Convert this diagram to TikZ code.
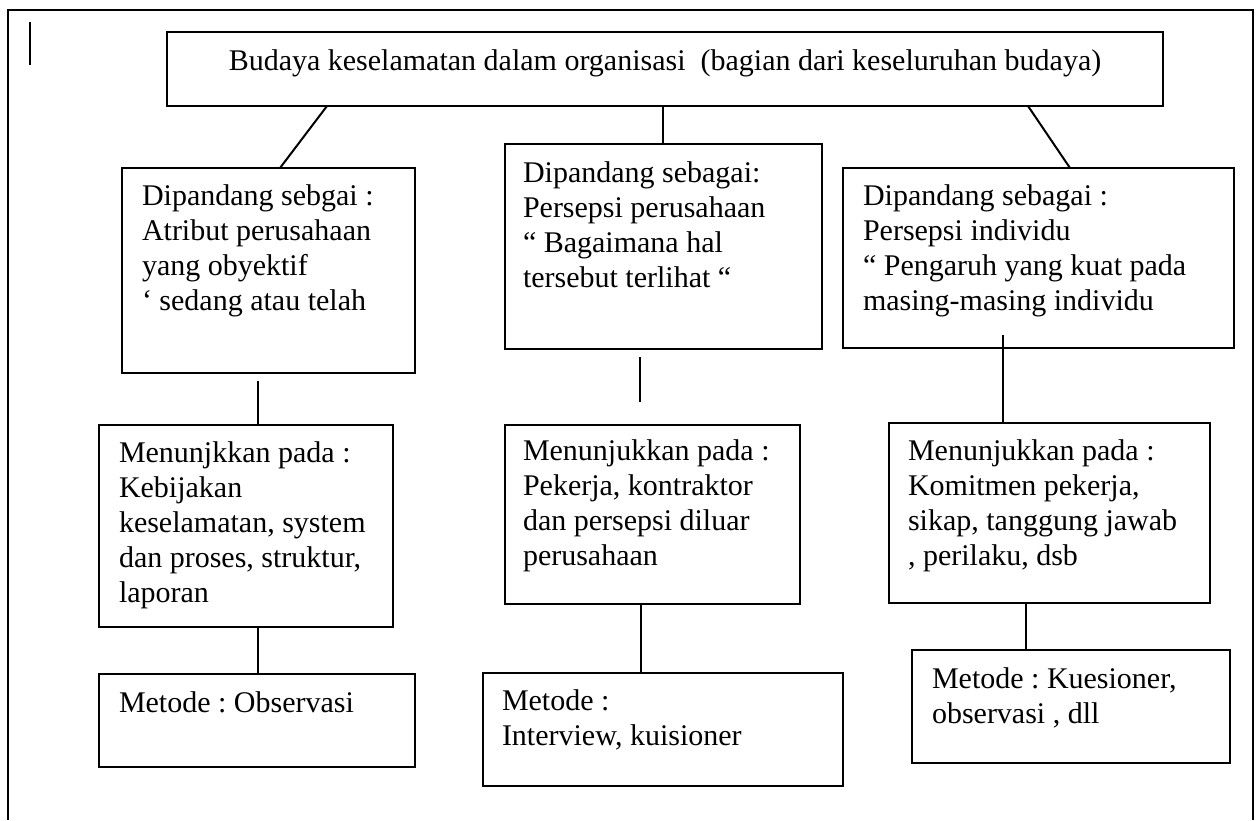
\documentclass[tikz,border=0pt]{standalone}
\usepackage{fontspec}
\setmainfont{Liberation Serif}
\usetikzlibrary{calc}

\begin{document}
\begin{tikzpicture}[x=0.5pt, y=-0.5pt,
  box/.style={draw, line width=1.2pt, rectangle, inner sep=0pt, outer sep=0pt, anchor=north west},
  txt/.style={inner sep=0pt, outer sep=0pt, font=\fontsize{15}{17.5}\selectfont\frenchspacing},
  link/.style={line width=1pt},
  frameline/.style={line width=1.1pt}]

\useasboundingbox (0,0) rectangle (1258,820);

% outer frame (its lower edge falls outside the page)
\draw[frameline] (8,820) -- (8,10) -- (1253,10) -- (1253,820);
\draw[line width=1.3pt] (30,22) -- (30,65);

% top box
\node[box, minimum width=498pt, minimum height=37pt] (T) at (167,32) {};
\node[txt, anchor=base] (Tt) at ($(T.north west)+(498,38)$)
  {Budaya keselamatan dalam organisasi\ \ (bagian dari keseluruhan budaya)};

% first row: how the culture is viewed
\node[box, minimum width=146.5pt, minimum height=102.5pt] (L1) at (122,168) {};
\node[txt, anchor=base west] (L1t) at ($(L1.north west)+(20,37)$)
  {\begin{tabular}[t]{@{}l@{}}Dipandang sebgai :\\ Atribut perusahaan\\ yang obyektif\\ ‘ sedang atau telah\end{tabular}};

\node[box, minimum width=158.5pt, minimum height=102.5pt] (M1) at (505,144) {};
\node[txt, anchor=base west] (M1t) at ($(M1.north west)+(18,38)$)
  {\begin{tabular}[t]{@{}l@{}}Dipandang sebagai:\\ Persepsi perusahaan\\ “ Bagaimana hal\\ tersebut terlihat “\end{tabular}};

\node[box, minimum width=195.5pt, minimum height=90pt] (R1) at (843,168) {};
\node[txt, anchor=base west] (R1t) at ($(R1.north west)+(20,37)$)
  {\begin{tabular}[t]{@{}l@{}}Dipandang sebagai :\\ Persepsi individu\\ “ Pengaruh yang kuat pada\\ masing-masing individu\end{tabular}};

% second row: what it points to
\node[box, minimum width=147pt, minimum height=101pt] (L2) at (99,425) {};
\node[txt, anchor=base west] (L2t) at ($(L2.north west)+(20,37)$)
  {\begin{tabular}[t]{@{}l@{}}Menunjkkan pada :\\ Kebijakan\\ keselamatan, system\\ dan proses, struktur,\\ laporan\end{tabular}};

\node[box, minimum width=147.5pt, minimum height=89.5pt] (M2) at (505,425) {};
\node[txt, anchor=base west] (M2t) at ($(M2.north west)+(18,35)$)
  {\begin{tabular}[t]{@{}l@{}}Menunjukkan pada :\\ Pekerja, kontraktor\\ dan persepsi diluar\\ perusahaan\end{tabular}};

\node[box, minimum width=160.5pt, minimum height=90pt] (R2) at (889,423) {};
\node[txt, anchor=base west] (R2t) at ($(R2.north west)+(19,37)$)
  {\begin{tabular}[t]{@{}l@{}}Menunjukkan pada :\\ Komitmen pekerja,\\ sikap, tanggung jawab\\ , perilaku, dsb\end{tabular}};

% third row: methods
\node[box, minimum width=158pt, minimum height=46.5pt] (L3) at (99,674) {};
\node[txt, anchor=base west] (L3t) at ($(L3.north west)+(20,38)$) {Metode : Observasi};

\node[box, minimum width=180pt, minimum height=56.5pt] (M3) at (483,673) {};
\node[txt, anchor=base west] (M3t) at ($(M3.north west)+(19,37)$)
  {\begin{tabular}[t]{@{}l@{}}Metode :\\ Interview, kuisioner\end{tabular}};

\node[box, minimum width=159pt, minimum height=56.5pt] (R3) at (912,650) {};
\node[txt, anchor=base west] (R3t) at ($(R3.north west)+(20,38)$)
  {\begin{tabular}[t]{@{}l@{}}Metode : Kuesioner,\\ observasi , dll\end{tabular}};

% connectors
\draw[link] ($(T.south west)+(160,0)$) -- ($(L1.north west)+(158,0)$);
\draw[link] ($(T.south west)+(496,0)$) -- ($(M1.north west)+(158,0)$);
\draw[link] ($(T.south west)+(861,0)$) -- ($(R1.north west)+(227,0)$);

\coordinate (L1b) at ($(L1.south west)+(136,8)$);
\draw[link] (L1b) -- ($(L2.north west)+(159,0)$);
\coordinate (M1b) at ($(M1.south west)+(135,8)$);
\coordinate (M2a) at ($(M2.north west)+(135,-23)$);
\draw[line width=1.4pt] (M1b) -- (M2a);
\coordinate (R1b) at ($(R1.south west)+(160,-13)$);
\draw[link] (R1b) -- ($(R2.north west)+(114,0)$);

\draw[link] ($(L2.south west)+(159,0)$) -- ($(L3.north west)+(159,0)$);
\draw[link] ($(M2.south west)+(136,0)$) -- ($(M3.north west)+(158,0)$);
\draw[link] ($(R2.south west)+(137,0)$) -- ($(R3.north west)+(114,0)$);

\end{tikzpicture}
\end{document}
